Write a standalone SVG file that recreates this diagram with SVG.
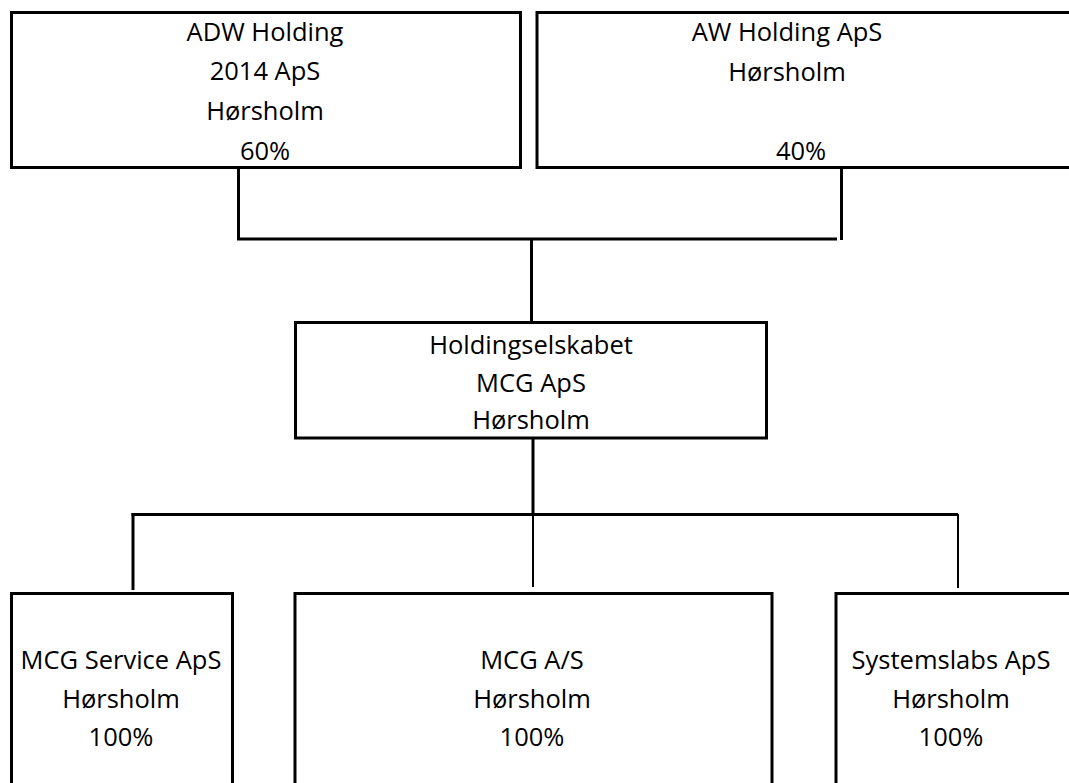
<svg xmlns="http://www.w3.org/2000/svg" width="1069" height="783" viewBox="0 0 1069 783">
<style>
.box{fill:#fff;stroke:#000;stroke-width:3}
.t{font-family:"Open Sans","Liberation Sans",sans-serif;font-size:25.5px;fill:#000;text-anchor:middle}
.c{stroke:#000;stroke-width:3;fill:none}
.ct{stroke:#000;stroke-width:2;fill:none}
</style>
<rect width="1069" height="783" fill="#fff"/>
<g id="connectors">
<line class="c" x1="238.5" y1="167" x2="238.5" y2="240"/>
<line class="c" x1="237" y1="239" x2="837" y2="239"/>
<line class="c" x1="841.5" y1="167" x2="841.5" y2="240"/>
<line class="c" x1="531.5" y1="239" x2="531.5" y2="322"/>
<line class="c" x1="533" y1="438" x2="533" y2="513"/>
<line class="c" x1="131.5" y1="514.5" x2="958" y2="514.5"/>
<line class="c" x1="133" y1="513" x2="133" y2="590"/>
<line class="ct" x1="533" y1="515" x2="533" y2="587"/>
<line class="ct" x1="958" y1="514" x2="958" y2="588"/>
</g>
<g id="adw">
<rect class="box" x="11.5" y="12.5" width="509" height="155"/>
<text class="t" x="265" y="41">ADW Holding</text>
<text class="t" x="265" y="80">2014 ApS</text>
<text class="t" x="265" y="120">Hørsholm</text>
<text class="t" x="265" y="160">60%</text>
</g>
<g id="aw">
<rect class="box" x="537" y="12.5" width="540" height="155"/>
<text class="t" x="787" y="41">AW Holding ApS</text>
<text class="t" x="787" y="81">Hørsholm</text>
<text class="t" x="801" y="160">40%</text>
</g>
<g id="mcgholding">
<rect class="box" x="295.5" y="322.5" width="471" height="115.5"/>
<text class="t" x="531" y="354">Holdingselskabet</text>
<text class="t" x="531" y="392">MCG ApS</text>
<text class="t" x="531" y="429">Hørsholm</text>
</g>
<g id="mcgservice">
<rect class="box" x="11.5" y="593.5" width="221" height="200"/>
<text class="t" x="121" y="669">MCG Service ApS</text>
<text class="t" x="121" y="708">Hørsholm</text>
<text class="t" x="121" y="746">100%</text>
</g>
<g id="mcgas">
<rect class="box" x="295" y="593.5" width="477" height="200"/>
<text class="t" x="532" y="669">MCG A/S</text>
<text class="t" x="532" y="708">Hørsholm</text>
<text class="t" x="532" y="746">100%</text>
</g>
<g id="systemslabs">
<rect class="box" x="836" y="593.5" width="250" height="200"/>
<text class="t" x="951" y="669">Systemslabs ApS</text>
<text class="t" x="951" y="708">Hørsholm</text>
<text class="t" x="951" y="746">100%</text>
</g>
</svg>
